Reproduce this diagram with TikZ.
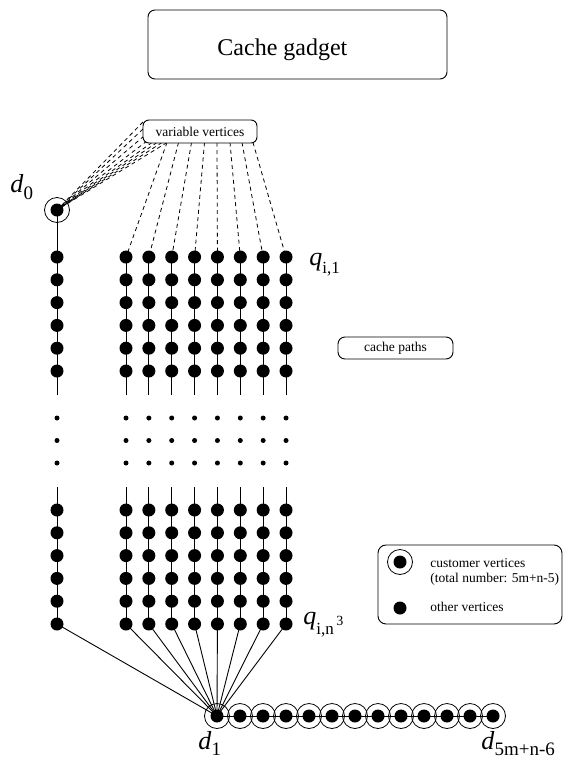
\documentclass[tikz,border=0pt]{standalone}
\usepackage{fontspec}
\setmainfont{Liberation Serif}
\newcommand{\bigit}[1]{{\fontsize{26}{26}\selectfont\textit{#1}}}
\newcommand{\subtx}[3]{\raisebox{-#1}{\fontsize{#2}{#2}\selectfont #3}}
\begin{document}
\begin{tikzpicture}[x=1pt,y=-1pt, line width=0.9pt,
  dot/.style={circle, fill=black, inner sep=0pt, minimum size=13pt},
  sdot/.style={circle, fill=black, inner sep=0pt, minimum size=5pt},
  ring/.style={circle, draw, inner sep=0pt, minimum size=25pt, line width=0.8pt},
  rbox/.style={draw, rounded corners=7pt, inner sep=0pt, fill=white, line width=0.9pt},
  txt/.style={inner sep=0pt, font=\fontsize{13.5}{16}\selectfont},
  lab/.style={inner sep=0pt, anchor=base west},
  vdash/.style={dash pattern=on 4pt off 3.5pt, line width=0.8pt}]
\useasboundingbox (0,0) rectangle (564,761);

% title
\node[rbox, minimum width=299pt, minimum height=69pt] (title) at (297.5,44.5) {};
\node[lab, font=\fontsize{24}{28}\selectfont] (titletext) at (217,55) {Cache gadget};

% d0 and left column
\node[dot] (d0) at (57,210) {};
\node[ring] (d0r) at (57,210) {};
\node[lab] (d0lab) at (10,192) {\bigit{d}\subtx{7pt}{19}{0}};
\foreach \r in {1,...,6} {
  \node[dot] (L\r) at (57,{257+22.8*(\r-1)}) {};
  \node[dot] (LL\r) at (57,{510+22.8*(\r-1)}) {};
}
\foreach \r in {1,2,3} \node[sdot] (Le\r) at (57,{418+22.5*(\r-1)}) {};
\coordinate (Lut) at (57,395);
\coordinate (Llt) at (57,487);
\draw (d0.center) -- (Lut);
\draw (Llt) -- (LL6.center);

% cache path columns
\foreach \c in {1,...,8} {
  \pgfmathsetmacro\xx{126+22.86*(\c-1)}
  \foreach \r in {1,...,6} {
    \node[dot] (u\c-\r) at (\xx,{257+22.8*(\r-1)}) {};
    \node[dot] (l\c-\r) at (\xx,{510+22.8*(\r-1)}) {};
  }
  \foreach \r in {1,2,3} \node[sdot] (e\c-\r) at (\xx,{418+22.5*(\r-1)}) {};
  \coordinate (ut\c) at (\xx,395);
  \coordinate (lt\c) at (\xx,487);
  \draw (u\c-1.center) -- (ut\c);
  \draw (lt\c) -- (l\c-6.center);
}

% d1 chain
\foreach \k in {0,...,12} {
  \node[dot] (c\k) at ({217+23*\k},716) {};
  \node[ring] (r\k) at ({217+23*\k},716) {};
}
\draw (c0.center) -- (c12.center);

% fan to d1
\draw (LL6.center) -- (c0.center);
\foreach \c in {1,...,8} \draw (l\c-6.center) -- (c0.center);

% dashed lines from variable vertices
\foreach \c/\sx in {1/167,2/178.5,3/191.5,4/204.5,5/217,6/230,7/242,8/253}
  \draw[vdash] (\sx,142.5) -- (u\c-1.center);
\foreach \sx/\sy in {143/122,143/129,144/136,147/141,152/142.5,157/142.5,162/142.5,167/142.5}
  \draw[vdash] (\sx,\sy) -- (d0.center);
\node[rbox, txt, rounded corners=6pt, minimum width=114pt, minimum height=23pt] (vv) at (200,131.5) {variable vertices};

% cache paths label
\node[rbox, txt, rounded corners=7pt, minimum width=115pt, minimum height=22pt] (cp) at (395.5,348) {cache paths};

% q labels
\node[lab] (q1) at (309,265) {\bigit{q}\subtx{8pt}{17}{i,1}};
\node[lab] (qn) at (303,624) {\bigit{q}\subtx{10pt}{17}{i,n}\raisebox{-1pt}{\fontsize{14}{14}\selectfont\,3}};

% d1 labels
\node[lab] (d1lab) at (198,749) {\bigit{d}\subtx{6pt}{19}{1}};
\node[lab] (dnlab) at (481,749) {\bigit{d}\subtx{6pt}{19}{5m+n-6}};

% legend
\node[rbox, rounded corners=8pt, minimum width=184pt, minimum height=79pt] (leg) at (470,584.5) {};
\node[dot] (legc) at (400,562) {};
\node[ring] (legcr) at (400,562) {};
\node[dot] (lego) at (400,608) {};
\node[lab, txt] (legt1) at (430,567) {customer vertices};
\node[lab, txt] (legt2) at (430,582) {(total number: 5m+n-5)};
\node[lab, txt] (legt3) at (430,611) {other vertices};
\end{tikzpicture}
\end{document}
